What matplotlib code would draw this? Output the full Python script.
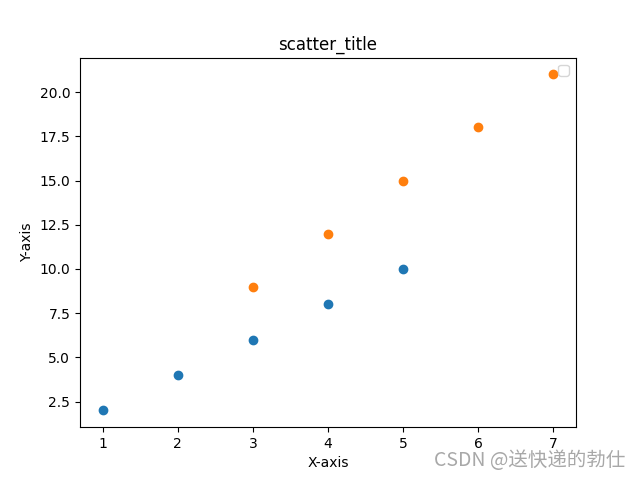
import matplotlib
matplotlib.use('Agg')
import matplotlib.pyplot as plt

x1 = [1, 2, 3, 4, 5]
y1 = [2, 4, 6, 8, 10]
x2 = [3, 4, 5, 6, 7]
y2 = [9, 12, 15, 18, 21]

fig, ax = plt.subplots(figsize=(6.4, 4.8), dpi=100)
ax.scatter(x1, y1)
ax.scatter(x2, y2)
ax.set_title('scatter_title')
ax.set_xlabel('X-axis')
ax.set_ylabel('Y-axis')
ax.legend(handles=[])

fig.text(0.977, 0.04, 'CSDN @送快递的勃仕', ha='right', va='center',
         fontsize=14, color='#a8a8a8', family=['Noto Sans CJK SC', 'DejaVu Sans'])

fig.savefig('out.png')
